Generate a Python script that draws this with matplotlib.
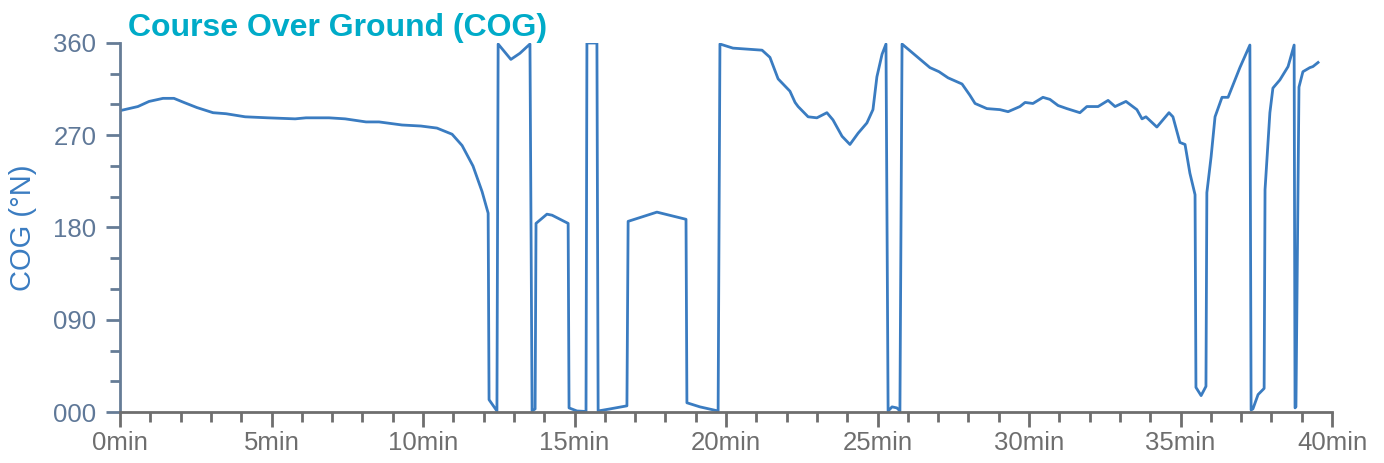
import matplotlib
matplotlib.use("Agg")
import matplotlib.pyplot as plt
from matplotlib.ticker import MultipleLocator, FixedLocator

# Time in minutes and course over ground in degrees
time_min = [
    0.00, 0.59, 0.96, 1.42, 1.78, 2.11, 2.54, 3.07, 3.50, 4.13, 4.88, 5.78, 6.14, 6.90,
    7.43, 8.12, 8.55, 9.31, 9.93, 10.46, 10.96, 11.29, 11.65, 11.95, 12.15, 12.18, 12.44,
    12.48, 12.90, 13.20, 13.53, 13.60, 13.70, 13.73, 14.09, 14.26, 14.79, 14.82, 15.08,
    15.38, 15.41, 15.74, 15.78, 16.17, 16.73, 16.77, 17.72, 18.68, 18.71, 19.14, 19.74,
    19.80, 20.23, 21.19, 21.45, 21.72, 22.11, 22.28, 22.38, 22.71, 23.00, 23.33, 23.53,
    23.83, 24.09, 24.36, 24.65, 24.85, 24.98, 25.15, 25.28, 25.35, 25.48, 25.64, 25.74,
    25.81, 26.17, 26.73, 27.03, 27.33, 27.79, 28.05, 28.22, 28.61, 29.04, 29.31, 29.70,
    29.87, 30.13, 30.46, 30.69, 30.96, 31.25, 31.68, 31.91, 32.28, 32.61, 32.84, 33.20,
    33.56, 33.73, 33.86, 34.22, 34.62, 34.75, 34.98, 35.15, 35.31, 35.48, 35.51, 35.68,
    35.84, 35.87, 36.01, 36.14, 36.37, 36.57, 36.96, 37.29, 37.33, 37.39, 37.56, 37.76,
    37.79, 37.95, 38.05, 38.28, 38.55, 38.75, 38.78, 38.81, 38.91, 39.04, 39.27, 39.37,
    39.54,
]
cog_deg = [
    294, 298, 303, 306, 306, 302, 297, 292, 291, 288, 287, 286, 287, 287,
    286, 283, 283, 280, 279, 277, 271, 260, 240, 215, 194, 12, 1,
    359, 344, 350, 359, 1, 3, 184, 193, 192, 184, 4, 1,
    0.5, 360, 360, 1, 3, 6, 186, 195, 188, 9, 5, 1,
    359, 355, 353, 346, 325, 313, 302, 298, 288, 287, 292, 285,
    269, 261, 272, 282, 295, 327, 349, 359, 1, 5, 4, 1,
    359, 350, 336, 332, 326, 320, 309, 301, 296, 295, 293, 298,
    302, 301, 307, 305, 299, 296, 292, 298, 298, 304, 298, 303,
    295, 286, 288, 278, 292, 288, 263, 261, 233, 212, 24, 16,
    25, 214, 249, 288, 307, 307, 336, 358, 2, 3, 17, 23,
    217, 292, 316, 324, 337, 358, 4, 5, 317, 332, 336, 337,
    341,
]

title_text = "Course Over Ground (COG)"
y_label = "COG (°N)"
y_major = [0, 90, 180, 270, 360]
y_major_labels = ["000", "090", "180", "270", "360"]
x_major = [0, 5, 10, 15, 20, 25, 30, 35, 40]
x_major_labels = [f"{v}min" for v in x_major]

plt.rcParams['font.family'] = ['Liberation Sans', 'DejaVu Sans']

W, H = 1384, 463
fig = plt.figure(figsize=(W / 100, H / 100), dpi=100)
ax = fig.add_axes([120 / W, 1 - 412 / H, (1332 - 120) / W, (412 - 43) / H])

line_color = "#3a7cc1"
ax.plot(time_min, cog_deg, color=line_color, lw=2.0, solid_joinstyle='round')

ax.set_xlim(0, 40)
ax.set_ylim(0, 360)

for s in ["top", "right"]:
    ax.spines[s].set_visible(False)
ycol = "#667c96"
xcol = "#6e6e6e"
ax.spines["left"].set_color(ycol)
ax.spines["left"].set_linewidth(2)
ax.spines["bottom"].set_color(xcol)
ax.spines["bottom"].set_linewidth(2)

ax.yaxis.set_major_locator(FixedLocator(y_major))
ax.set_yticklabels(y_major_labels)
ax.yaxis.set_minor_locator(MultipleLocator(30))
ax.xaxis.set_major_locator(FixedLocator(x_major))
ax.set_xticklabels(x_major_labels)
ax.xaxis.set_minor_locator(MultipleLocator(1))

ax.tick_params(axis='y', which='major', length=10, width=2, color=ycol,
               labelcolor="#5f7898", labelsize=18.5, pad=7)
ax.tick_params(axis='y', which='minor', length=7, width=2, color=ycol)
ax.tick_params(axis='x', which='major', length=11, width=2, color=xcol,
               labelcolor=xcol, labelsize=18.5, pad=3)
ax.tick_params(axis='x', which='minor', length=7, width=2, color=xcol)

ax.set_ylabel(y_label, color=line_color, fontsize=21, labelpad=12)

fig.text(128 / W, 1 - 36 / H, title_text, color="#00abc8", fontsize=23,
         fontweight='bold', va='baseline', ha='left')

fig.savefig("out.png", dpi=100)
